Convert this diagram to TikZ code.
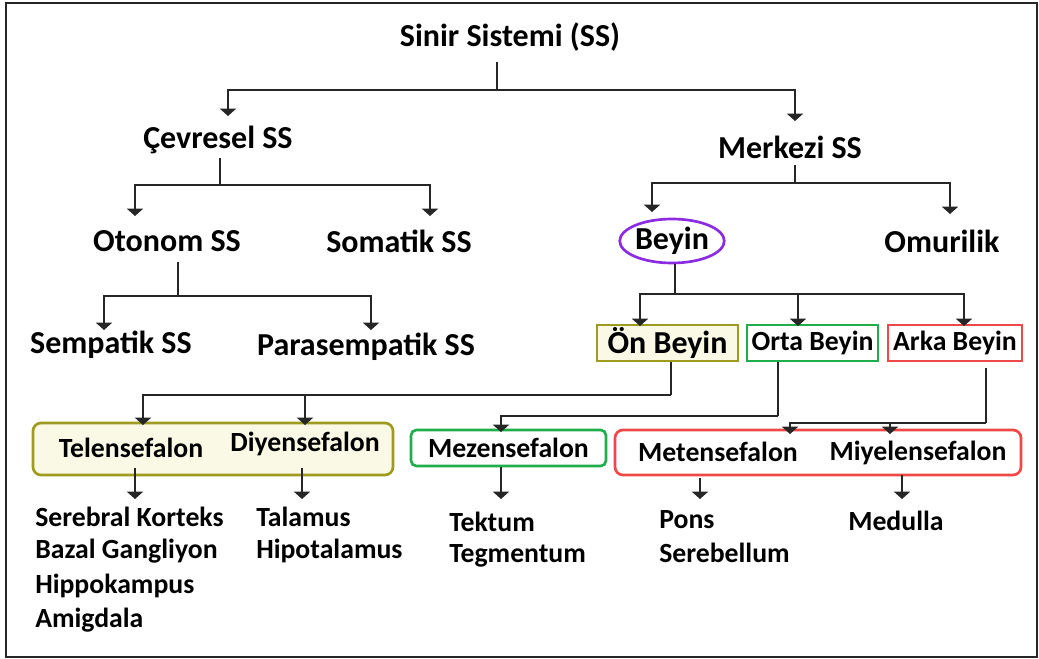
\documentclass[tikz,border=0pt]{standalone}
\usepackage{fontspec}
\setmainfont{Carlito}
\usetikzlibrary{arrows.meta,shapes.geometric}
\definecolor{myolive}{HTML}{9E9B1E}
\definecolor{mycream}{HTML}{F9F9E6}
\definecolor{mygreen}{HTML}{1FAE4B}
\definecolor{myred}{HTML}{EE4848}
\definecolor{myviolet}{HTML}{8B2BE2}
\begin{document}
\begin{tikzpicture}[x=0.75pt,y=-0.75pt,
  lbl/.style={font=\fontsize{20.8}{24}\selectfont\bfseries, inner sep=0pt},
  big/.style={lbl, font=\fontsize{24}{28}\selectfont\bfseries},
  lst/.style={lbl, anchor=west},
  conn/.style={line width=1.5pt, draw=black!85},
  arr/.style={conn, -{Triangle[width=12pt,length=5.5pt]}},
  bx/.style={lbl, line width=2pt},
]
\useasboundingbox (0,0) rectangle (1039,659);
\draw[line width=2.2pt, draw=black!85] (6,3) rectangle (1037,657);

% text nodes
\node[big] (ss) at (510,37) {Sinir Sistemi (SS)};
\node[big] (cev) at (218,140) {Çevresel SS};
\node[big] (mer) at (790,147) {Merkezi SS};
\node[big] (oto) at (167,241) {Otonom SS};
\node[big] (som) at (399,241) {Somatik SS};
\node[big, ellipse, draw=myviolet, line width=2pt, minimum width=75pt, minimum height=33pt, inner sep=0pt] (bey) at (672,241) {Beyin};
\node[big] (omu) at (942,241) {Omurilik};
\node[big] (sem) at (111,345) {Sempatik SS};
\node[big] (par) at (366,347) {Parasempatik SS};

\node[bx, big, line width=2pt, draw=myolive, fill=mycream, minimum width=105.75pt, minimum height=27pt] (on) at (667.5,343) {Ön Beyin};
\node[bx, draw=mygreen, fill=white, minimum width=98.25pt, minimum height=27pt] (orta) at (812.5,343) {Orta Beyin};
\node[bx, draw=myred, fill=white, minimum width=100.5pt, minimum height=27pt] (arka) at (955,343) {Arka Beyin};

\node[bx, draw=myolive, fill=mycream, rounded corners=6pt, minimum width=270pt, minimum height=39pt] (tdbox) at (213,449) {};
\node[lbl] (tel) at (131,448) {Telensefalon};
\node[lbl] (diy) at (305,444) {Diyensefalon};
\node[bx, draw=mygreen, fill=white, rounded corners=4pt, minimum width=146.25pt, minimum height=27pt] (mez) at (508.5,448) {Mezensefalon};
\node[bx, draw=myred, fill=white, rounded corners=6pt, minimum width=304.5pt, minimum height=33.75pt] (mmbox) at (818,452.5) {};
\node[lbl] (met) at (718,452) {Metensefalon};
\node[lbl] (miy) at (918,453) {Miyelensefalon};

\node[lst] (sk) at (35,517) {Serebral Korteks};
\node[lst] (bg) at (35,551) {Bazal Gangliyon};
\node[lst] (hk) at (35,586) {Hippokampus};
\node[lst] (am) at (35,620) {Amigdala};
\node[lst] (tal) at (256,517) {Talamus};
\node[lst] (hip) at (256,551) {Hipotalamus};
\node[lst] (tek) at (449,522) {Tektum};
\node[lst] (teg) at (449,556) {Tegmentum};
\node[lst] (pon) at (659,520) {Pons};
\node[lst] (ser) at (659,553) {Serebellum};
\node[lst] (med) at (848,521) {Medulla};

% junction coordinates
\coordinate (j0) at (497,90);
\coordinate (j1) at (220,185);
\coordinate (j2) at (795,183);
\coordinate (j3) at (178,296);
\coordinate (j4) at (675,294);
\coordinate (j5) at (671,395);
\coordinate (j6) at (778,416);
\coordinate (j7) at (986,423);
% arrow tips
\coordinate (tcev) at (228,116);
\coordinate (tmer) at (795,121);
\coordinate (toto) at (135,216);
\coordinate (tsom) at (430,216);
\coordinate (tbey) at (652,212);
\coordinate (tomu) at (950,214);
\coordinate (tsem) at (104,330);
\coordinate (tpar) at (371,330);
\coordinate (ton) at (640,326);
\coordinate (torta) at (798,326);
\coordinate (tarka) at (964,326);
\coordinate (ttel) at (143,425);
\coordinate (tdiy) at (305,425);
\coordinate (tmez) at (501,432);
\coordinate (tmet) at (790,434);
\coordinate (tmiy) at (890,434);

% connectors
\draw[conn] (497,62) -- (j0);
\draw[arr] (j0) -| (tcev);
\draw[arr] (j0) -| (tmer);

\draw[conn] (220,158) -- (j1);
\draw[arr] (j1) -| (toto);
\draw[arr] (j1) -| (tsom);

\draw[conn] (795,165) -- (j2);
\draw[arr] (j2) -| (tbey);
\draw[arr] (j2) -| (tomu);

\draw[conn] (178,262) -- (j3);
\draw[arr] (j3) -| (tsem);
\draw[arr] (j3) -| (tpar);

\draw[conn] (bey.south -| j4) -- (j4);
\draw[arr] (j4) -| (ton);
\draw[arr] (j4) -| (torta);
\draw[arr] (j4) -| (tarka);

\draw[conn] (on.south -| j5) -- (j5);
\draw[arr] (j5) -| (ttel);
\draw[arr] (j5) -| (tdiy);

\draw[conn] (orta.south -| j6) -- (j6);
\draw[arr] (j6) -| (tmez);

\draw[conn] (986,368) -- (j7);
\draw[arr] (j7) -| (tmet);
\draw[arr] (j7) -| (tmiy);

\draw[arr] (135,468) -- (135,499);
\draw[arr] (302,468) -- (302,499);
\draw[arr] (mez.south -| tmez) -- (501,499);
\draw[arr] (700,478) -- (700,499);
\draw[arr] (902,475) -- (902,499);
\end{tikzpicture}
\end{document}
